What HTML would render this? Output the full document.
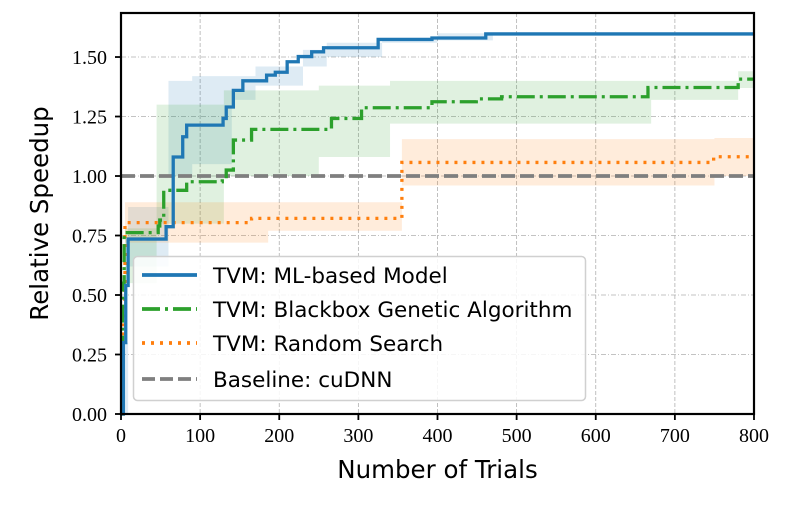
<!DOCTYPE html>
<html><head><meta charset="utf-8"><style>
html,body{margin:0;padding:0;background:#fff;width:801px;height:509px;overflow:hidden}
svg{display:block}
.tick{font-family:"Liberation Serif",serif;font-size:20px;fill:#000}
.lab{font-family:"DejaVu Sans","Liberation Sans",sans-serif;font-size:24.5px;fill:#000}
.leg{font-family:"DejaVu Sans","Liberation Sans",sans-serif;font-size:21.5px;fill:#000}
</style></head><body>
<svg id="chart" width="801" height="509" xmlns="http://www.w3.org/2000/svg"></svg>
<script>
// ---- data ----
const xTicks = [0,100,200,300,400,500,600,700,800];
const yTicks = [0,0.25,0.5,0.75,1.0,1.25,1.5];
const yTickLabels = ["0.00","0.25","0.50","0.75","1.00","1.25","1.50"];
const seriesNames = ["TVM: ML-based Model","TVM: Blackbox Genetic Algorithm","TVM: Random Search","Baseline: cuDNN"];
const mlTrials = [0,3,6,9,57,66,78,83,129,133,142,154,184,195,210,224,241,256,325,393,461,800];
const mlValues = [0,0.3,0.54,0.735,0.787,1.08,1.165,1.214,1.242,1.29,1.36,1.40,1.424,1.436,1.48,1.502,1.522,1.539,1.574,1.58,1.597,1.597];
const gaTrials = [0,2,4,47,49,54,83,128,133,142,165,266,304,393,449,481,666,780,800];
const gaValues = [0,0.55,0.762,0.79,0.815,0.94,0.976,0.99,1.025,1.151,1.196,1.242,1.287,1.312,1.324,1.333,1.372,1.407,1.407];
const rsTrials = [0,3,5,165,355,749,800];
const rsValues = [0,0.45,0.804,0.822,1.057,1.081,1.081];
const baselineValue = 1.0;
const mlBandT = [0,9,60,90,140,170,230,260,330,400,470,800];
const mlBandLo = [0,0.62,1.0,1.05,1.32,1.38,1.46,1.50,1.56,1.57,1.597,1.597];
const mlBandHi = [0.3,0.87,1.40,1.42,1.42,1.46,1.53,1.56,1.58,1.60,1.597,1.597];
const gaBandT = [0,5,45,130,250,340,480,640,670,780,800];
const gaBandLo = [0,0.55,0.80,1.0,1.08,1.22,1.22,1.22,1.32,1.37,1.37];
const gaBandHi = [0.3,0.78,1.30,1.36,1.38,1.40,1.40,1.40,1.40,1.44,1.44];
const rsBandT = [0,5,186,355,750,800];
const rsBandLo = [0,0.72,0.77,0.96,1.0,1.0];
const rsBandHi = [0.3,0.89,0.89,1.155,1.16,1.16];

const L=121,R=754,T=13,B=414;
const X=t=>L+(t/800)*(R-L);
const Y=v=>B-(v/1.685)*(B-T);
const NS="http://www.w3.org/2000/svg";
const svg=document.getElementById('chart');
function mk(tag,attrs,parent){const e=document.createElementNS(NS,tag);for(const k in attrs)e.setAttribute(k,attrs[k]);(parent||svg).appendChild(e);return e;}
function stepPath(ts,vs){let d=`M${X(ts[0])},${Y(vs[0])}`;for(let i=1;i<ts.length;i++){d+=`H${X(ts[i])}V${Y(vs[i])}`;}return d;}
function bandPath(ts,lo,hi){let d=`M${X(ts[0])},${Y(hi[0])}`;for(let i=1;i<ts.length;i++){d+=`H${X(ts[i])}V${Y(hi[i])}`;}d+=`V${Y(lo[lo.length-1])}`;for(let i=ts.length-1;i>0;i--){d+=`H${X(ts[i])}V${Y(lo[i-1])}`;}d+=`H${X(ts[0])}Z`;return d;}

const grid=mk('g',{});


xTicks.forEach(t=>{mk('line',{x1:X(t),x2:X(t),y1:T,y2:B,stroke:'#b0b0b0','stroke-width':0.8,'stroke-dasharray':'4,2'},grid);});
yTicks.forEach(v=>{mk('line',{x1:L,x2:R,y1:Y(v),y2:Y(v),stroke:'#b0b0b0','stroke-width':0.8,'stroke-dasharray':'5,2,1,2'},grid);});

const b1=mk('path',{d:bandPath(mlBandT,mlBandLo,mlBandHi),fill:'#1f77b4','fill-opacity':0.15});


const b2=mk('path',{d:bandPath(gaBandT,gaBandLo,gaBandHi),fill:'#2ca02c','fill-opacity':0.15});


const b3=mk('path',{d:bandPath(rsBandT,rsBandLo,rsBandHi),fill:'#ff7f0e','fill-opacity':0.15});



const bl=mk('line',{x1:L,x2:R,y1:Y(baselineValue),y2:Y(baselineValue),stroke:'#7f7f7f','stroke-width':3.8,'stroke-dasharray':'14,5'});


const s3=mk('path',{d:stepPath(rsTrials,rsValues),fill:'none',stroke:'#ff7f0e','stroke-width':3.3,'stroke-dasharray':'3,6'});


const s2=mk('path',{d:stepPath(gaTrials,gaValues),fill:'none',stroke:'#2ca02c','stroke-width':3.3,'stroke-dasharray':'18,5,3,5'});


const s1=mk('path',{d:stepPath(mlTrials,mlValues),fill:'none',stroke:'#1f77b4','stroke-width':3.3});



const fr=mk('rect',{x:L,y:T,width:R-L,height:B-T,fill:'none',stroke:'#000','stroke-width':2.2});



xTicks.forEach(t=>{
  mk('line',{x1:X(t),x2:X(t),y1:B,y2:B+6,stroke:'#000','stroke-width':1.8});
  const tx=mk('text',{x:X(t),y:B+28,'text-anchor':'middle',class:'tick'});
  tx.textContent=t;
  
  
});
yTicks.forEach((v,i)=>{
  mk('line',{x1:L-6,x2:L,y1:Y(v),y2:Y(v),stroke:'#000','stroke-width':1.8});
  const tx=mk('text',{x:L-14,y:Y(v)+7,'text-anchor':'end',class:'tick'});
  tx.textContent=yTickLabels[i];
  
  
});
const xt=mk('text',{x:(L+R)/2,y:478,'text-anchor':'middle',class:'lab'});
xt.textContent='Number of Trials';


const yt=mk('text',{x:0,y:0,'text-anchor':'middle',class:'lab',transform:`translate(48,${(T+B)/2}) rotate(-90)`});
yt.textContent='Relative Speedup';



const lg=mk('g',{});


mk('rect',{x:133.5,y:256.5,width:452,height:144,rx:4,fill:'#fff','fill-opacity':0.85,stroke:'#d0d0d0','stroke-width':1.5},lg);
const legStyles=[{c:'#1f77b4',d:''},{c:'#2ca02c',d:'18,5,3,5'},{c:'#ff7f0e',d:'3,6'},{c:'#7f7f7f',d:'13,5'}];
const legY=[275,309,343,379];
seriesNames.forEach((n,i)=>{
  const a={x1:142,x2:197,y1:legY[i],y2:legY[i],stroke:legStyles[i].c,'stroke-width':3.8};
  if(legStyles[i].d)a['stroke-dasharray']=legStyles[i].d;
  const ln=mk('line',a,lg);
  
  
  const tx=mk('text',{x:213,y:legY[i]+8,class:'leg'},lg);
  tx.textContent=n;
  
  
});
</script>
</body></html>
